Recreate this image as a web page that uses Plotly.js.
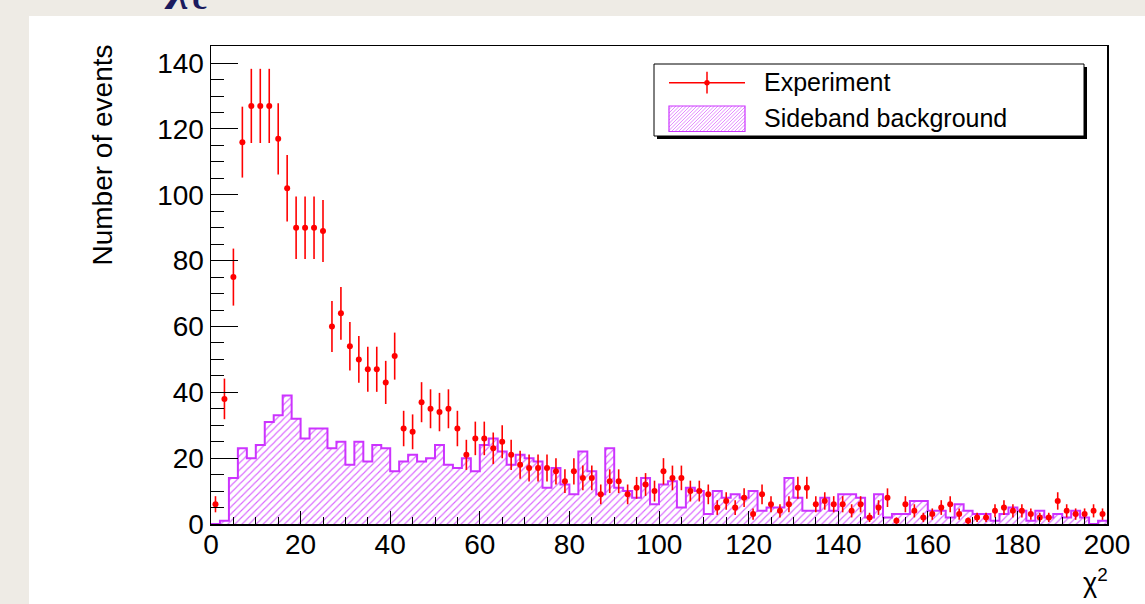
<!DOCTYPE html>
<html><head><meta charset="utf-8">
<script src="https://cdn.plot.ly/plotly-3.0.1.min.js"></script>
<style>
html,body{margin:0;padding:0;background:#eeebe5;overflow:hidden;}
#sheet{position:absolute;left:29px;top:16px;width:1116px;height:588px;background:#ffffff;}
#chart{position:absolute;left:0;top:0;width:1145px;height:604px;}
</style></head><body>
<div id="sheet"></div><div id="chart"></div>
<script>
// ---- data ----
const binWidth = 2;
const binCenters = [1,3,5,7,9,11,13,15,17,19,21,23,25,27,29,31,33,35,37,39,
  41,43,45,47,49,51,53,55,57,59,61,63,65,67,69,71,73,75,77,79,
  81,83,85,87,89,91,93,95,97,99,101,103,105,107,109,111,113,115,117,119,
  121,123,125,127,129,131,133,135,137,139,141,143,145,147,149,151,153,155,157,159,
  161,163,165,167,169,171,173,175,177,179,181,183,185,187,189,191,193,195,197,199];
const experiment = [6,38,75,116,127,127,127,117,102,90,
  90,90,89,60,64,54,50,47,47,43,
  51,29,28,37,35,34,35,29,21,26,
  26,23,25,21,18,17,17,17,16,13,
  16,14,14,9,13,13,9,11,12,10,
  16,14,14,10,10,9,5,7,5,8,
  3,9,6,4,6,11,11,6,7,6,
  6,4,6,2,5,8,1,6,4,2,
  3,5,6,3,1,2,2,4,5,4,
  4,3,2,2,7,4,3,3,4,3];
const sideband = [0,1,14,23,20,24,31,33,39,32,
  26,29,29,23,25,18,25,19,24,23,
  16,19,21,19,20,24,18,17,20,16,
  24,26,22,18,21,20,19,11,17,12,
  9,22,16,9,23,11,10,8,14,6,
  12,13,5,11,10,3,10,8,9,8,
  10,4,5,5,14,8,4,4,8,4,
  9,9,8,2,9,2,3,3,7,7,
  4,4,2,6,4,3,3,1,3,5,
  4,1,4,2,3,2,4,2,0,1];
const xTitle = 'χ<sup>2</sup>';
const yTitle = 'Number of events';
const legendLabels = ['Experiment', 'Sideband background'];
const headerText = '<b><i>χ</i></b><sub><b>c</b></sub>';

// ---- styles ----
const FONT = 'Liberation Sans, Arial, Helvetica, sans-serif';
const VIOLET = '#cc33ff';
const RED = '#ff0000';
const L = 211, T = 46, W = 896, H = 478;
const px = x => (x - L) / W;
const py = y => (T + H - y) / H;

const expErr = experiment.map(v => Math.sqrt(v));
const edges = binCenters.map(c => c - binWidth / 2);
edges.push(binCenters[binCenters.length - 1] + binWidth / 2);
const stepY = sideband.slice();
stepY.push(sideband[sideband.length - 1]);

const traces = [
  {type:'bar', x: binCenters, y: sideband, width: binWidth,
   marker:{color:'rgba(255,255,255,0)', line:{width:0},
     pattern:{shape:'/', fgcolor: VIOLET, bgcolor:'rgba(255,255,255,0)', size:5, solidity:0.22, fgopacity:0.75}},
   hoverinfo:'skip', showlegend:false},
  {type:'scatter', mode:'lines', x: edges, y: stepY,
   line:{shape:'hv', color: VIOLET, width:2}, hoverinfo:'skip', showlegend:false},
  {type:'scatter', mode:'markers', x: binCenters, y: experiment,
   marker:{color: RED, size:6, symbol:'circle'},
   error_y:{type:'data', array: expErr, visible:true, color: RED, thickness:1.6, width:0},
   hoverinfo:'skip', showlegend:false}
];

function hatchPath(x0, y0, x1, y1, s) {
  const h = y1 - y0; let d = '';
  for (let c = x0 - h; c < x1; c += s) {
    const t0 = Math.max(0, x0 - c), t1 = Math.min(h, x1 - c);
    if (t1 <= t0) continue;
    const ax = c + t0, ay = y1 - t0, bx = c + t1, by = y1 - t1;
    d += 'M' + px(ax).toFixed(5) + ',' + py(ay).toFixed(5) + 'L' + px(bx).toFixed(5) + ',' + py(by).toFixed(5);
  }
  return d;
}

const shapes = [
  {type:'rect', xref:'paper', yref:'paper', x0:px(657), x1:px(1087), y0:py(139), y1:py(67), fillcolor:'#000', line:{width:0}},
  {type:'rect', xref:'paper', yref:'paper', x0:px(654), x1:px(1084), y0:py(136), y1:py(64), fillcolor:'#fff', line:{color:'#000', width:1}},
  {type:'line', xref:'paper', yref:'paper', x0:px(669), x1:px(745), y0:py(82.7), y1:py(82.7), line:{color:RED, width:1.5}},
  {type:'line', xref:'paper', yref:'paper', x0:px(707), x1:px(707), y0:py(93.5), y1:py(71.8), line:{color:RED, width:1.5}},
  {type:'circle', xref:'paper', yref:'paper', x0:px(704.3), x1:px(709.7), y0:py(85.4), y1:py(80), fillcolor:RED, line:{width:0}},
  {type:'rect', xref:'paper', yref:'paper', x0:px(669), x1:px(745), y0:py(131.5), y1:py(106), fillcolor:'#fff', line:{width:0}},
  {type:'path', xref:'paper', yref:'paper', path: hatchPath(669, 106, 745, 131.5, 3.5), line:{color:'rgba(204,51,255,0.7)', width:0.8}},
  {type:'rect', xref:'paper', yref:'paper', x0:px(669), x1:px(745), y0:py(131.5), y1:py(106), line:{color:VIOLET, width:1.2}}
];

const annotations = [
  {xref:'paper', yref:'paper', x:px(762), y:py(82.5), xanchor:'left', yanchor:'middle', text: legendLabels[0], showarrow:false, font:{family:FONT, size:25, color:'#000'}},
  {xref:'paper', yref:'paper', x:px(762), y:py(118), xanchor:'left', yanchor:'middle', text: legendLabels[1], showarrow:false, font:{family:FONT, size:25, color:'#000'}},
  {xref:'paper', yref:'paper', x:px(102), y:py(43), xanchor:'center', yanchor:'top', textangle:-90, text: yTitle, showarrow:false, font:{family:FONT, size:28, color:'#000'}},
  {xref:'paper', yref:'paper', x:px(1110), y:py(581), xanchor:'right', yanchor:'middle', text: xTitle, showarrow:false, font:{family:FONT, size:27, color:'#000'}},
  {xref:'paper', yref:'paper', x:px(162), y:py(-14), xanchor:'left', yanchor:'middle', text: headerText, showarrow:false, font:{family:'Liberation Serif, DejaVu Serif, serif', size:48, color:'#1b1b5e'}}
];

const axisCommon = {
  showline:true, linecolor:'#000', linewidth:1.5, mirror:true,
  showgrid:false, zeroline:false, ticks:'inside', tickcolor:'#000', tickwidth:1,
  tickfont:{family:FONT, size:28, color:'#000'}
};

const layout = {
  width:1145, height:604,
  margin:{l:L, r:1145 - L - W, t:T, b:604 - T - H, pad:0},
  paper_bgcolor:'rgba(0,0,0,0)', plot_bgcolor:'#ffffff',
  showlegend:false, bargap:0, barmode:'overlay',
  xaxis: Object.assign({}, axisCommon, {range:[0,200], tick0:0, dtick:20, ticklen:13, ticklabelstandoff:-5,
    minor:{dtick:5, tick0:0, ticklen:7, tickcolor:'#000', ticks:'inside', showgrid:false}}),
  yaxis: Object.assign({}, axisCommon, {range:[0,145.2], tick0:0, dtick:20, ticklen:27,
    minor:{dtick:5, tick0:0, ticklen:13, tickcolor:'#000', ticks:'inside', showgrid:false}}),
  shapes: shapes,
  annotations: annotations
};

Plotly.newPlot('chart', traces, layout, {displayModeBar:false, staticPlot:true});
</script>
</body></html>
